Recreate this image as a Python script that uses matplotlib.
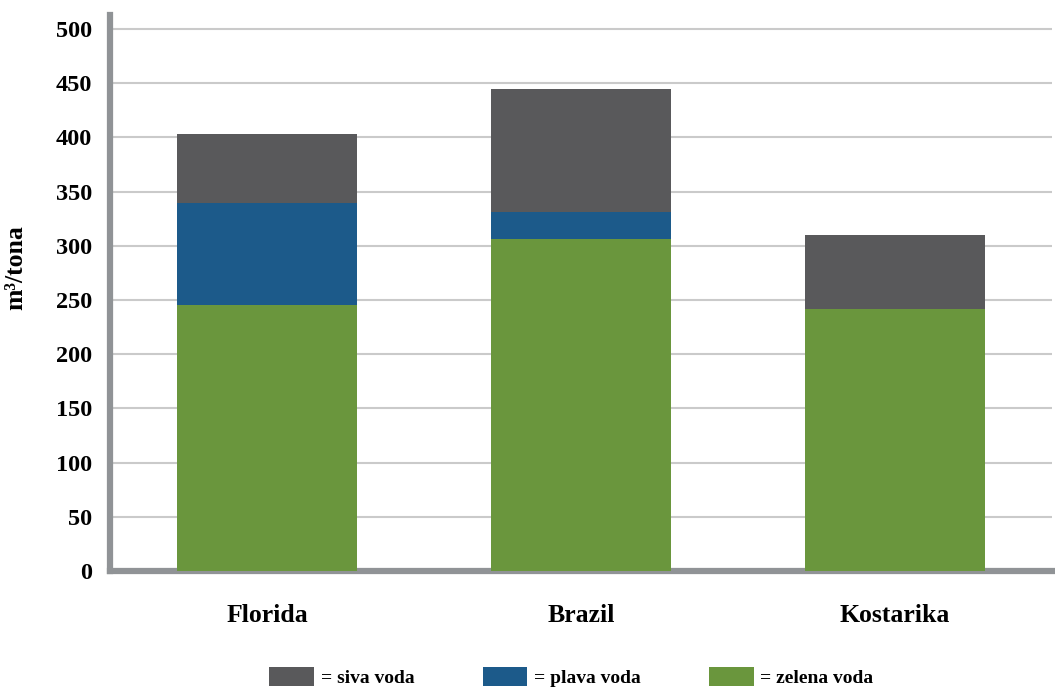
import matplotlib
matplotlib.use("Agg")
import matplotlib.pyplot as plt
import numpy as np

# Data (m3/tona)
regions = ["Florida", "Brazil", "Kostarika"]
green_water = [245, 306, 242]
blue_water = [95, 25, 0]
grey_water = [63, 114, 68]

colors = {
    "grey": "#59595B",
    "blue": "#1C5A8A",
    "green": "#6A963D",
}

plt.rcParams["font.family"] = ["Liberation Serif", "DejaVu Serif"]
plt.rcParams["font.weight"] = "bold"

fig = plt.figure(figsize=(10.55, 6.91), dpi=100)
ax = fig.add_axes([110 / 1055, 1 - 571 / 691, (1052 - 110) / 1055, (571 - 15) / 691])

x = np.arange(len(regions))
width = 0.575
green = np.array(green_water)
blue = np.array(blue_water)
grey = np.array(grey_water)

ax.bar(x, green, width, color=colors["green"], zorder=3, label="= zelena voda")
ax.bar(x, blue, width, bottom=green, color=colors["blue"], zorder=3, label="= plava voda")
ax.bar(x, grey, width, bottom=green + blue, color=colors["grey"], zorder=3, label="= siva voda")

ax.set_xlim(-0.5, 2.5)
ax.set_ylim(0, 513)
ax.set_yticks(range(0, 501, 50))
ax.set_xticks(x)
ax.set_xticklabels(regions, fontsize=18.5, fontweight="bold")
ax.tick_params(axis="y", length=0, pad=13, labelsize=17.5)
ax.tick_params(axis="x", length=0, pad=24)
for lbl in ax.get_yticklabels():
    lbl.set_fontweight("bold")

ax.grid(axis="y", color="#CACACA", linewidth=1.5, zorder=0)
ax.set_axisbelow(True)

for side in ["top", "right"]:
    ax.spines[side].set_visible(False)
for side in ["left", "bottom"]:
    ax.spines[side].set_color("#909396")
    ax.spines[side].set_linewidth(4.5)

ax.set_ylabel("m³/tona", fontsize=18.5, fontweight="bold")
ax.yaxis.set_label_coords(-0.088, 0.545)

# Legend in reverse order: siva, plava, zelena
handles, labels = ax.get_legend_handles_labels()
fig.legend(handles[::-1], labels[::-1], loc="upper center", ncol=3,
           bbox_to_anchor=(0.5417, 1 - 667 / 691), frameon=False,
           prop={"size": 14, "weight": "bold"}, handlelength=2.3,
           handleheight=1.15, handletextpad=0.35, columnspacing=3.5,
           borderpad=0, borderaxespad=0)

fig.savefig("out.png", dpi=100)
